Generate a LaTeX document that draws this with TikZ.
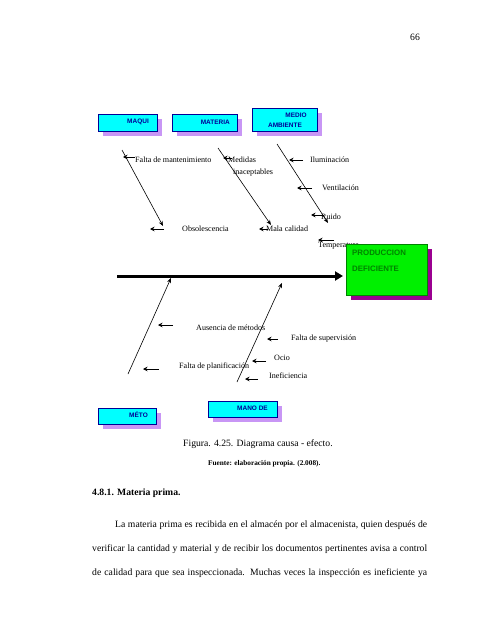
\documentclass[tikz,border=0pt]{standalone}
\usepackage{fontspec}
\setmainfont{Liberation Serif}
\setsansfont{Liberation Sans}
\usetikzlibrary{positioning,arrows.meta,shadows}

\definecolor{boxcyan}{RGB}{0,255,255}
\definecolor{boxblue}{RGB}{0,0,150}
\definecolor{lilac}{RGB}{200,150,245}
\definecolor{effgreen}{RGB}{0,240,0}
\definecolor{effdark}{RGB}{0,130,0}
\definecolor{effshadow}{RGB}{155,0,145}

\begin{document}
\begin{tikzpicture}[x=1bp, y=-1bp,
  bone/.style={line width=0.6bp, -{Stealth[length=5bp, width=4bp]}},
  tick/.style={line width=0.9bp, -{Stealth[length=4.5bp, width=4.5bp]}},
  spine/.style={line width=3bp, -{Triangle[length=8bp, width=9bp]}},
  cause/.style={font=\fontsize{8.1}{9.7}\selectfont, inner sep=0pt, anchor=west},
  body/.style={font=\fontsize{9.7}{11}\selectfont, inner sep=0pt, anchor=west},
  causebox/.style={draw=boxblue, line width=0.9bp, fill=boxcyan, inner sep=0pt,
    drop shadow={shadow xshift=5bp, shadow yshift=-5bp, fill=lilac, opacity=1}},
  boxtext/.style={font=\sffamily\bfseries\fontsize{6.5}{7}\selectfont, text=boxblue, inner sep=0pt},
  effbox/.style={draw=effdark, line width=0.8bp, fill=effgreen, inner sep=0pt,
    drop shadow={shadow xshift=5bp, shadow yshift=-5bp, fill=effshadow, opacity=1}},
  efftext/.style={font=\sffamily\bfseries\fontsize{7.9}{9}\selectfont, text=effdark, inner sep=0pt, anchor=west}]

\useasboundingbox[fill=white] (0,0) rectangle (495,640);

\node[body] (pagenum) at (410,37) {66};

% category boxes
\node[causebox, minimum width=59bp, minimum height=17bp] (maqbox) at (127.5,122.5) {};
\node[boxtext, anchor=east] (maqtxt) at (149,122) {MAQUI};
\node[causebox, minimum width=65bp, minimum height=17bp] (matbox) at (204.5,122.5) {};
\node[boxtext, anchor=east] (mattxt) at (230,122) {MATERIA};
\node[causebox, minimum width=65bp, minimum height=23bp] (medbox) at (284.5,119.5) {};
\node[boxtext] (medtxt) at (296,115) {MEDIO};
\node[boxtext] (ambtxt) at (285,125) {AMBIENTE};
\node[causebox, minimum width=58bp, minimum height=16bp] (metbox) at (127,416) {};
\node[boxtext, anchor=east] (mettxt) at (148,415) {MÉTO};
\node[causebox, minimum width=69bp, minimum height=16bp] (manbox) at (242.5,409) {};
\node[boxtext, anchor=east] (mantxt) at (268,408) {MANO DE};

% bones
\coordinate (b1s) at (122,150);
\coordinate (b1e) at (163,226);
\coordinate (b2s) at (218,148);
\coordinate (b2e) at (271,225);
\coordinate (b3s) at (277,144);
\coordinate (b3e) at (328,223);
\coordinate (b4s) at (128,374);
\coordinate (b4e) at (171,278);
\coordinate (b5s) at (237,382);
\coordinate (b5e) at (282,283);
\draw[bone] (b1s) -- (b1e);
\draw[bone] (b2s) -- (b2e);
\draw[bone] (b3s) -- (b3e);
\draw[bone] (b4s) -- (b4e);
\draw[bone] (b5s) -- (b5e);

% causes
\node[cause] (mant) at (135,160) {Falta de mantenimiento};
\coordinate (a1t) at (135,157); \coordinate (a1h) at (123,157);
\draw[tick] (a1t) -- (a1h);
\node[cause] (med) at (228,160) {Medidas};
\node[cause] (inac) at (233,173) {inaceptables};
\coordinate (a2t) at (232,158); \coordinate (a2h) at (223,158);
\draw[tick] (a2t) -- (a2h);
\node[cause] (obs) at (182,229) {Obsolescencia};
\coordinate (a3t) at (164,229); \coordinate (a3h) at (150,229);
\draw[tick] (a3t) -- (a3h);
\node[cause] (mala) at (266,229) {Mala calidad};
\coordinate (a4t) at (268,229); \coordinate (a4h) at (259,229);
\draw[tick] (a4t) -- (a4h);
\node[cause] (ilum) at (310,160) {Iluminación};
\coordinate (a5t) at (303,160); \coordinate (a5h) at (289,160);
\draw[tick] (a5t) -- (a5h);
\node[cause] (vent) at (322,188) {Ventilación};
\coordinate (a6t) at (312,188); \coordinate (a6h) at (297,188);
\draw[tick] (a6t) -- (a6h);
\node[cause] (ruido) at (321,217) {Ruido};
\coordinate (a7t) at (324,215); \coordinate (a7h) at (311,215);
\draw[tick] (a7t) -- (a7h);
\node[cause] (temp) at (318,246) {Temperatura};
\coordinate (a8t) at (334,240); \coordinate (a8h) at (318,240);
\draw[tick] (a8t) -- (a8h);

\node[cause] (aus) at (196,328) {Ausencia de métodos};
\coordinate (a9t) at (173,325); \coordinate (a9h) at (158,325);
\draw[tick] (a9t) -- (a9h);
\node[cause] (plan) at (179,367) {Falta de planificación};
\coordinate (a10t) at (159,369); \coordinate (a10h) at (143,369);
\draw[tick] (a10t) -- (a10h);
\node[cause] (sup) at (291,339) {Falta de supervisión};
\coordinate (a11t) at (278,339); \coordinate (a11h) at (267,339);
\draw[tick] (a11t) -- (a11h);
\node[cause] (ocio) at (274,358) {Ocio};
\coordinate (a12t) at (266,361); \coordinate (a12h) at (252,361);
\draw[tick] (a12t) -- (a12h);
\node[cause] (inef) at (269,376) {Ineficiencia};
\coordinate (a13t) at (258,379); \coordinate (a13h) at (245,379);
\draw[tick] (a13t) -- (a13h);

% spine and effect
\coordinate (tail) at (117,276);
\coordinate (head) at (343,276);
\draw[spine] (tail) -- (head);
\node[effbox, minimum width=81bp, minimum height=51bp] (effect) at (386.5,269.5) {};
\node[efftext] (prod) at (352,253) {PRODUCCION};
\node[efftext] (defi) at (352,269) {DEFICIENTE};

% page text
\node[body] (caption) at (183,444) {Figura. 4.25. Diagrama causa - efecto.};
\node[body, font=\fontsize{7.3}{9}\selectfont\bfseries] (source) at (208,464) {Fuente: elaboración propia. (2.008).};
\node[body, font=\fontsize{9.7}{11}\selectfont\bfseries] (heading) at (92,493) {4.8.1. Materia prima.};
\node[body] (line1) at (115,525) {\makebox[312bp][s]{La materia prima es recibida en el almacén por el almacenista, quien después de}};
\node[body] (line2) at (92,549) {\makebox[335bp][s]{verificar la cantidad y material y de recibir los documentos pertinentes avisa a control}};
\node[body] (line3) at (92,573) {\makebox[335bp][s]{de calidad para que sea inspeccionada. Muchas veces la inspección es ineficiente ya}};

\end{tikzpicture}
\end{document}
